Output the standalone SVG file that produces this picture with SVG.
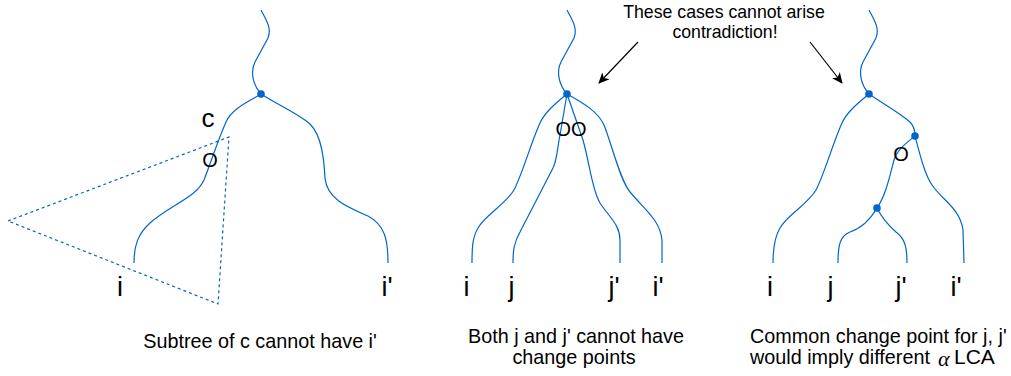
<svg xmlns="http://www.w3.org/2000/svg" width="1011" height="376" viewBox="0 0 1011 376">
<style>
.br{fill:none;stroke:#0066CC;stroke-width:1.2}
.dot{fill:#0066CC}
.dash{fill:none;stroke:#0066CC;stroke-width:1.2;stroke-dasharray:3 3}
.lbl{font-family:"Liberation Sans",Arial,sans-serif;font-size:27px;fill:#000}
.mk{font-family:"Liberation Sans",Arial,sans-serif;font-size:20px;fill:#000}
.cap{font-family:"Liberation Sans",Arial,sans-serif;font-size:19.8px;fill:#000}
.note{font-family:"Liberation Sans",Arial,sans-serif;font-size:17.7px;fill:#000}
.arr{fill:none;stroke:#000;stroke-width:1.2}
</style>
<defs>
<marker id="ah" markerWidth="12" markerHeight="10" refX="10" refY="5" orient="auto" markerUnits="userSpaceOnUse">
<path d="M0,0 L11,5 L0,10 L3,5 Z" fill="#000"/>
</marker>
</defs>
<rect width="1011" height="376" fill="#fff"/>
<g id="connectors">
<!-- panel 1 -->
<path class="br" d="M261,10 C266,20 272,28 268,38 L255,62 C250,72 253,85 261,94"/>
<path class="br" d="M261,94 C250,101 232,108 226,122 C218,140 210,165 204,180 C196,198 170,205 150,223 C138,234 134,245 134,263"/>
<path class="br" d="M261,94 C280,106 300,115 310,124 C322,136 324,160 325,178 C327,200 350,208 368,216 C385,225 388,240 388,263"/>
<path class="dash" d="M8,221 L229,137 L218,304 Z"/>
<!-- panel 2 -->
<path class="br" d="M567,10 C572,20 578,28 574,38 L561,62 C556,72 559,85 567,94"/>
<path class="br" d="M567,94 C555,104 545,112 540,123 C532,140 522,175 514,190 C505,205 485,215 478,228 C472,238 472,250 472,263"/>
<path class="br" d="M567,94 L560,135 C557,150 557,160 553,168 L520,232 C514,243 513,250 513,263"/>
<path class="br" d="M567,94 L583,140 C590,165 592,190 600,203 C610,218 620,225 620,240 L620,263"/>
<path class="br" d="M567,94 C585,104 598,112 604,125 C612,145 620,180 630,192 C645,210 660,220 662,240 L662,263"/>
<!-- panel 3 -->
<path class="br" d="M869,10 C874,20 880,28 876,38 L863,62 C858,72 861,85 869,94"/>
<path class="br" d="M869,94 C857,104 847,112 842,123 C834,140 824,175 816,190 C807,205 787,215 780,228 C774,238 773,250 773,263"/>
<path class="br" d="M869,94 C885,105 900,113 910,122 C914,126 915,131 915,136"/>
<path class="br" d="M915,136 C920,155 925,175 932,185 C942,200 960,208 963,230 L964,263"/>
<path class="br" d="M915,136 C905,144 897,150 894,160 C890,175 886,195 877,208"/>
<path class="br" d="M877,208 C870,220 862,228 850,232 C840,236 838,245 838,263"/>
<path class="br" d="M877,208 C882,218 888,225 896,232 C904,238 907,245 907,263"/>
<!-- arrows -->
<path class="arr" d="M638,42 L599,83" marker-end="url(#ah)"/>
<path class="arr" d="M810,42 L842,83" marker-end="url(#ah)"/>
</g>
<g id="dots">
<circle class="dot" cx="261" cy="94" r="3.8"/>
<circle class="dot" cx="567" cy="94" r="3.8"/>
<circle class="dot" cx="869" cy="94" r="3.8"/>
<circle class="dot" cx="915" cy="136" r="3.8"/>
<circle class="dot" cx="877" cy="208" r="3.8"/>
</g>
<g id="marks">
<text class="mk" x="208" y="127" text-anchor="middle" style="font-size:26px">c</text>
<text class="mk" x="210" y="167" text-anchor="middle">O</text>
<text class="mk" x="571" y="136" text-anchor="middle">OO</text>
<text class="mk" x="901" y="161" text-anchor="middle">O</text>
</g>
<g id="labels">
<text class="lbl" x="117" y="296">i</text>
<text class="lbl" x="381.5" y="296">i'</text>
<text class="lbl" x="463.5" y="296">i</text>
<text class="lbl" x="508.5" y="296">j</text>
<text class="lbl" x="608.5" y="296">j'</text>
<text class="lbl" x="652.5" y="296">i'</text>
<text class="lbl" x="767" y="296">i</text>
<text class="lbl" x="827.5" y="296">j</text>
<text class="lbl" x="895.5" y="296">j'</text>
<text class="lbl" x="950.5" y="296">i'</text>
</g>
<g id="captions">
<text class="cap" x="260" y="348" text-anchor="middle">Subtree of c cannot have i'</text>
<text class="cap" x="576" y="343" text-anchor="middle">Both j and j' cannot have</text>
<text class="cap" x="574" y="364" text-anchor="middle">change points</text>
<text class="cap" x="750" y="343">Common change point for j, j'</text>
<text class="cap" x="750" y="364">would imply different</text>
<text class="cap" x="938" y="366" style="font-family:'Liberation Serif','DejaVu Serif',serif;font-style:italic;font-size:22px">α</text>
<text class="cap" x="954" y="364" style="font-size:21px">LCA</text>
</g>
<g id="note">
<text class="note" x="724" y="18" text-anchor="middle">These cases cannot arise</text>
<text class="note" x="725" y="38" text-anchor="middle">contradiction!</text>
</g>
</svg>
